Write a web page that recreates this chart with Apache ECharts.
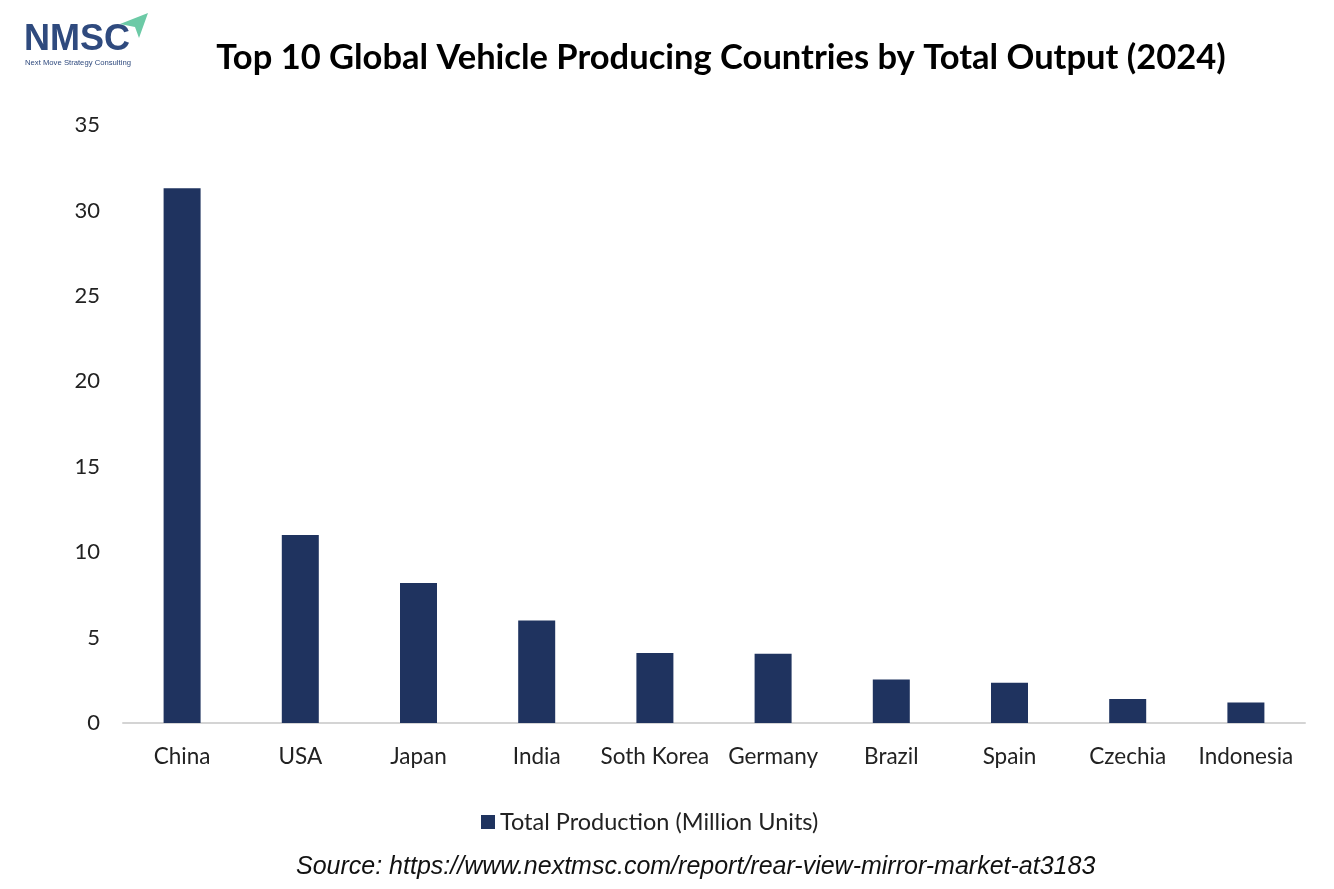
<!DOCTYPE html>
<html><head><meta charset="utf-8">
<script src="https://cdn.jsdelivr.net/npm/echarts@6/dist/echarts.min.js"></script>
<style>html,body{margin:0;padding:0;background:#fff}#c{width:1334px;height:889px}</style>
</head><body><div id="c"></div>
<script>
const categories = ['China','USA','Japan','India','Soth Korea','Germany','Brazil','Spain','Czechia','Indonesia'];
const production = [31.3, 11.0, 8.2, 6.0, 4.1, 4.05, 2.55, 2.35, 1.4, 1.2];
const seriesName = 'Total Production (Million Units)';
const yTicks = [0, 5, 10, 15, 20, 25, 30, 35];

const chart = echarts.init(document.getElementById('c'));
chart.setOption({
  backgroundColor: '#fff',
  animation: false,
  title: {
    text: 'Top 10 Global Vehicle Producing Countries by Total Output (2024)',
    left: 716, top: 35, textAlign: 'center',
    textStyle: {fontFamily: 'Lato', fontWeight: 'bold', fontSize: 34.5, color: '#000'}
  },
  legend: {
    data: [seriesName], bottom: 50, left: 476,
    itemWidth: 14, itemHeight: 14, icon: 'rect', itemGap: 6,
    textStyle: {fontFamily: 'Lato', fontSize: 23.5, color: '#222'}
  },
  grid: {left: 123, right: 29, top: 125, bottom: 166},
  xAxis: {
    type: 'category', data: categories,
    axisLine: {lineStyle: {color: '#d4d4d4', width: 2}},
    axisTick: {show: false},
    axisLabel: {fontFamily: 'Lato', fontSize: 22.5, color: '#222', margin: 22, interval: 0}
  },
  yAxis: {
    type: 'value', min: yTicks[0], max: yTicks[yTicks.length - 1], interval: 5,
    axisLine: {show: false}, axisTick: {show: false}, splitLine: {show: false},
    axisLabel: {fontFamily: 'Lato', fontSize: 22, color: '#222', margin: 23}
  },
  series: [{
    name: seriesName, type: 'bar', data: production,
    barWidth: 37, itemStyle: {color: '#1f335f'}
  }],
  graphic: [
    {type: 'text', left: 24, top: 22, style: {text: 'NMSC', fontFamily: 'Liberation Sans', fontWeight: 'bold', fontSize: 36, fill: '#2f4a7e'}},
    {type: 'text', left: 25, top: 59, style: {text: 'Next Move Strategy Consulting', fontFamily: 'Liberation Sans', fontSize: 7.7, fill: '#2f4a7e'}},
    {type: 'polygon', shape: {points: [[120,24],[148,13],[139,38],[135,27]]}, style: {fill: '#6ccaa6'}},
    {type: 'text', left: 296, top: 855, style: {text: 'Source: https://www.nextmsc.com/report/rear-view-mirror-market-at3183', fontFamily: 'Liberation Sans', fontStyle: 'italic', fontSize: 25, fill: '#111'}}
  ]
});
</script></body></html>
